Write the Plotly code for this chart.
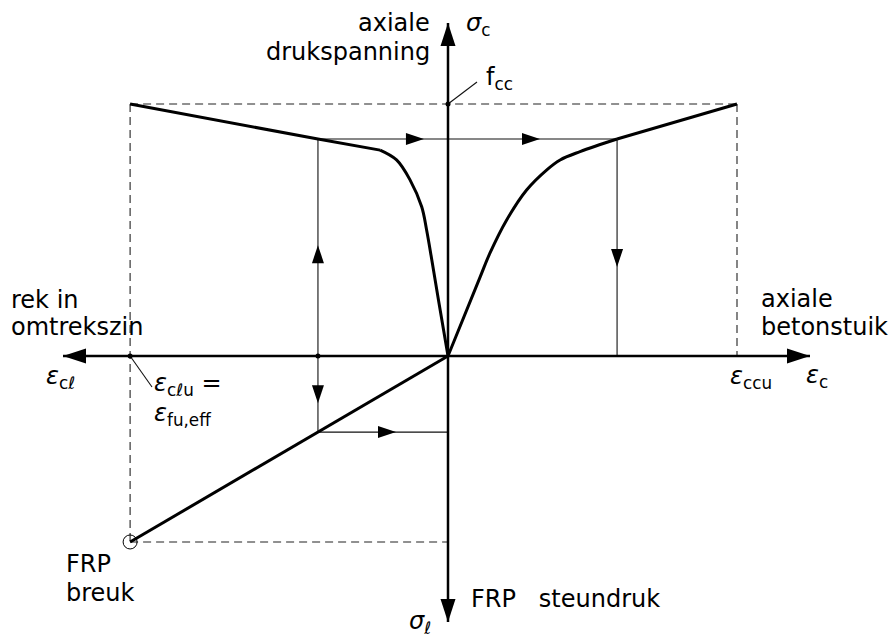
import plotly.graph_objects as go

# ---------------------------------------------------------------------------
# Values (dimensionless: strains relative to eps_ccu, stresses relative to f_cc)
# Right of the origin: axial strain eps_c; left: hoop strain eps_l.
# Up: axial stress sigma_c; down: FRP confining pressure sigma_l.
# ---------------------------------------------------------------------------
eps_ccu = 1.0      # ultimate axial strain of the confined concrete
eps_clu = -1.10    # hoop strain at FRP rupture (= eps_fu,eff)
f_cc = 1.0         # confined compressive strength
sig_l_u = -0.738   # confining pressure at FRP rupture

# one intermediate state traced through the four quadrants
eps_l_i = -0.450
eps_c_i = 0.585
sig_c_i = 0.861
sig_l_i = -0.302

# axial stress - axial strain curve (curved part, then straight branch)
axial_eps = [0.0, 0.111, 0.145, 0.203, 0.272, 0.341, 0.388, 0.457, 0.585]
axial_sig = [0.0, 0.313, 0.408, 0.540, 0.659, 0.738, 0.778, 0.811, 0.861]
axial_lin_eps = [0.585, 1.0]
axial_lin_sig = [0.861, 1.0]

# axial stress - hoop strain curve
lateral_eps = [0.0, -0.033, -0.056, -0.074, -0.091, -0.131, -0.178, -0.235]
lateral_sig = [0.0, 0.222, 0.381, 0.500, 0.592, 0.698, 0.778, 0.817]
lateral_lin_eps = [-0.235, -0.450, -1.10]
lateral_lin_sig = [0.817, 0.861, 1.0]

# confining pressure - hoop strain (linear elastic FRP jacket)
confine_eps = [0.0, eps_clu]
confine_sig = [0.0, sig_l_u]

# ---------------------------------------------------------------------------
# Page geometry: origin position and scale in pixels
# ---------------------------------------------------------------------------
W, H = 894, 641
X0, Y0 = 448, 356
SX, SY = 289.0, 252.0


def dx(px):
    return (px - X0) / SX


def dy(py):
    return (Y0 - py) / SY


FONT = "DejaVu Sans"
FS = 24
INK = "black"
THIN = "#111111"
DASHC = "#222222"

fig = go.Figure()


def seg(xs, ys, width, color=INK, dash=None, shape="linear"):
    fig.add_trace(go.Scatter(
        x=xs, y=ys, mode="lines", hoverinfo="skip", showlegend=False,
        line=dict(color=color, width=width, dash=dash, shape=shape,
                  smoothing=1.0 if shape == "spline" else None),
    ))


def arrowhead(xd, yd, direction, length, width):
    # filled triangle with its tip at (xd, yd); sizes in pixels
    tx, ty = X0 + xd * SX, Y0 - yd * SY
    ux, uy = {"r": (1, 0), "l": (-1, 0), "u": (0, -1), "d": (0, 1)}[direction]
    bx, by = tx - ux * length, ty - uy * length
    nx, ny = -uy, ux
    pts = [(tx, ty),
           (bx + nx * width / 2, by + ny * width / 2),
           (bx - nx * width / 2, by - ny * width / 2)]
    path = "M " + " L ".join(f"{dx(x):.5f},{dy(y):.5f}" for x, y in pts) + " Z"
    fig.add_shape(type="path", path=path, xref="x", yref="y",
                  fillcolor=INK, line=dict(width=0), layer="above")


# dashed limit box
DASH = "8px,5px"
seg([eps_clu, eps_ccu], [f_cc, f_cc], 1.1, DASHC, DASH)
seg([eps_clu, eps_clu], [f_cc, sig_l_u], 1.1, DASHC, DASH)
seg([eps_ccu, eps_ccu], [f_cc, 0.0], 1.1, DASHC, DASH)
seg([eps_clu, 0.0], [sig_l_u, sig_l_u], 1.1, DASHC, DASH)

# construction lines of the intermediate state
seg([eps_l_i, eps_c_i], [sig_c_i, sig_c_i], 1.1, THIN)
seg([eps_l_i, eps_l_i], [sig_c_i, sig_l_i], 1.1, THIN)
seg([eps_c_i, eps_c_i], [sig_c_i, 0.0], 1.1, THIN)
seg([eps_l_i, 0.0], [sig_l_i, sig_l_i], 1.1, THIN)

# coordinate axes
AX_L, AX_R, AX_T, AX_B = dx(63), dx(810), dy(23), dy(622)
seg([AX_L, AX_R], [0.0, 0.0], 2.5)
seg([0.0, 0.0], [AX_B, AX_T], 2.5)
arrowhead(AX_R, 0.0, "r", 23, 15)
arrowhead(AX_L, 0.0, "l", 23, 15)
arrowhead(0.0, AX_T, "u", 23, 15)
arrowhead(0.0, AX_B, "d", 23, 15)

# material curves
seg(axial_eps, axial_sig, 3, shape="spline")
seg(axial_lin_eps, axial_lin_sig, 3)
seg(lateral_eps, lateral_sig, 3, shape="spline")
seg(lateral_lin_eps, lateral_lin_sig, 3)
seg(confine_eps, confine_sig, 3)

# direction arrows on the construction lines
arrowhead(eps_l_i * 0.185, sig_c_i, "r", 18, 12)
arrowhead(eps_c_i * 0.544, sig_c_i, "r", 18, 12)
arrowhead(eps_l_i, sig_c_i * 0.511, "u", 18, 12)
arrowhead(eps_l_i, sig_l_i * 0.62, "d", 18, 12)
arrowhead(eps_c_i, sig_c_i * 0.41, "d", 18, 12)
arrowhead(eps_l_i * 0.40, sig_l_i, "r", 18, 12)

# leader lines
seg([0.0, dx(477)], [f_cc, dy(82)], 1.1, THIN)
seg([eps_clu, dx(152)], [0.0, dy(387)], 1.1, THIN)

# dots and rupture circle
fig.add_trace(go.Scatter(
    x=[0.0, eps_clu, eps_l_i], y=[f_cc, 0.0, 0.0], mode="markers",
    hoverinfo="skip", showlegend=False,
    marker=dict(color=INK, size=5, line=dict(width=0)),
))
fig.add_trace(go.Scatter(
    x=[eps_clu], y=[sig_l_u], mode="markers", hoverinfo="skip", showlegend=False,
    marker=dict(color="rgba(0,0,0,0)", size=14, line=dict(color=INK, width=1)),
))


def label(text, px, py, xanchor="left"):
    fig.add_annotation(x=dx(px), y=dy(py), text=text, showarrow=False,
                       xref="x", yref="y", xanchor=xanchor, yanchor="middle",
                       font=dict(family=FONT, size=FS, color=INK))


label("axiale", 432, 23, "right")
label("drukspanning", 432, 52, "right")
label("<i>σ</i><sub>c</sub>", 464, 24)
label("f<sub>cc</sub>", 484, 78)
label("rek in", 9, 300)
label("omtrekszin", 9, 327)
label("<i>ε</i><sub>cℓ</sub>", 44, 377)
label("<i>ε</i><sub>cℓu</sub> =", 152, 384)
label("<i>ε</i><sub>fu,eff</sub>", 152, 414)
label("axiale", 759, 299)
label("betonstuik", 759, 327)
label("<i>ε</i><sub>ccu</sub>", 751, 377, "center")
label("<i>ε</i><sub>c</sub>", 804, 376)
label("FRP", 64, 564)
label("breuk", 64, 593)
label("FRP\u00a0\u00a0 steundruk", 469, 599)
label("<i>σ</i><sub>ℓ</sub>", 407, 622)

fig.update_layout(
    width=W, height=H,
    margin=dict(l=0, r=0, t=0, b=0),
    paper_bgcolor="white", plot_bgcolor="white",
    showlegend=False,
    xaxis=dict(range=[dx(0), dx(W)], visible=False, fixedrange=True),
    yaxis=dict(range=[dy(H), dy(0)], visible=False, fixedrange=True),
)

fig.write_html("out.html")
